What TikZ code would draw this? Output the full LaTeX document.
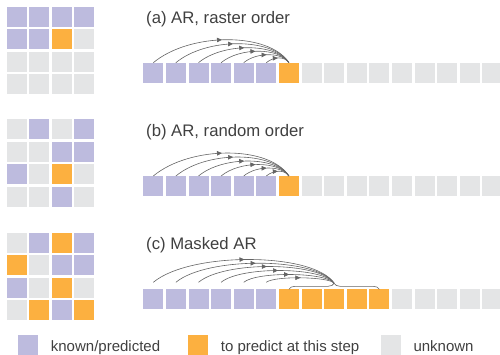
\documentclass[tikz,border=0pt]{standalone}
\usepackage{fontspec}
\setmainfont{Liberation Sans}
\usetikzlibrary{arrows.meta,decorations.markings,decorations.pathreplacing,calc}
\definecolor{kp}{RGB}{189,187,222}
\definecolor{tp}{RGB}{252,176,64}
\definecolor{uk}{RGB}{228,229,230}
\definecolor{ln}{RGB}{100,100,100}
\definecolor{tx}{RGB}{64,64,64}
\begin{document}
\begin{tikzpicture}[x=1pt,y=-1pt,
 cell/.style={minimum size=20pt,inner sep=0pt,outer sep=0pt,anchor=north west,draw=none},
 arcline/.style={draw=ln,line width=0.6pt,postaction={decorate},
   decoration={markings,mark=at position 0.5 with {\arrow[ln]{Triangle[length=5pt,width=4.5pt]}}}},
 title/.style={anchor=base west,inner sep=0pt,font=\fontsize{16.7}{18}\selectfont,text=tx},
 leg/.style={anchor=base west,inner sep=0pt,font=\fontsize{15}{17}\selectfont,text=tx}]
\useasboundingbox (0,0) rectangle (500,355);
% grids
\foreach \row [count=\r from 0] in {{kp,kp,kp,kp},{kp,kp,tp,uk},{uk,uk,uk,uk},{uk,uk,uk,uk}}
  \foreach \t [count=\c from 0] in \row
    \node[cell,fill=\t] (ga\r\c) at (6.7+22.55*\c, 6.7+22.55*\r) {};
\foreach \row [count=\r from 0] in {{uk,kp,uk,kp},{uk,uk,kp,kp},{kp,uk,tp,uk},{uk,uk,kp,uk}}
  \foreach \t [count=\c from 0] in \row
    \node[cell,fill=\t] (gb\r\c) at (6.7+22.55*\c, 119.3+22.55*\r) {};
\foreach \row [count=\r from 0] in {{uk,kp,tp,kp},{tp,uk,kp,kp},{kp,uk,tp,uk},{uk,tp,kp,tp}}
  \foreach \t [count=\c from 0] in \row
    \node[cell,fill=\t] (gc\r\c) at (6.7+22.55*\c, 232.7+22.55*\r) {};
% titles
\node[title] (ta) at (146,23.5) {(a) AR, raster order};
\node[title] (tb) at (146,136.8) {(b) AR, random order};
\node[title] (tc) at (146,250) {(c) Masked AR};
% sequences
\foreach \i/\t in {0/kp,1/kp,2/kp,3/kp,4/kp,5/kp,6/tp,7/uk,8/uk,9/uk,10/uk,11/uk,12/uk,13/uk,14/uk,15/uk}{
  \node[cell,fill=\t] (sa\i) at (143.3+22.6*\i, 62.7) {};
  \node[cell,fill=\t] (sb\i) at (143.3+22.6*\i, 176) {};
}
\foreach \i/\t in {0/kp,1/kp,2/kp,3/kp,4/kp,5/kp,6/tp,7/tp,8/tp,9/tp,10/tp,11/uk,12/uk,13/uk,14/uk,15/uk}
  \node[cell,fill=\t] (sc\i) at (143.3+22.6*\i, 289.3) {};
% arcs
\foreach \i/\h in {0/23,1/19,2/15,3/11.5,4/8,5/4.8}{
  \draw[arcline] (sa\i.north) .. controls +(1.6*\h,-1.333*\h) and +(-0.85*\h,-1.333*\h) .. (sa6.north);
  \draw[arcline] (sb\i.north) .. controls +(1.6*\h,-1.333*\h) and +(-0.85*\h,-1.333*\h) .. (sb6.north);
}
\draw[ln,line width=0.6pt,decorate,decoration={brace,amplitude=6pt}] (sc6.north) -- (sc10.north);
\coordinate (tip) at ($(sc6.north)!0.5!(sc10.north)+(0,-6)$);
\foreach \i/\h in {0/23.3,1/19.6,2/16.3,3/12.3,4/8.3,5/5}
  \draw[arcline] ([yshift=7pt]sc\i.north) .. controls +(1.6*\h,-1.333*\h) and +(-0.85*\h,-1.333*\h) .. (tip);
% legend
\node[cell,fill=kp] (lk) at (18.3,335) {};
\node[leg] (lkt) at (50.7,351.5) {known/predicted};
\node[cell,fill=tp] (lt) at (188.3,335) {};
\node[leg] (ltt) at (220.7,351.5) {to predict at this step};
\node[cell,fill=uk] (lu) at (381,335) {};
\node[leg] (lut) at (413.3,351.5) {unknown};
\end{tikzpicture}
\end{document}
